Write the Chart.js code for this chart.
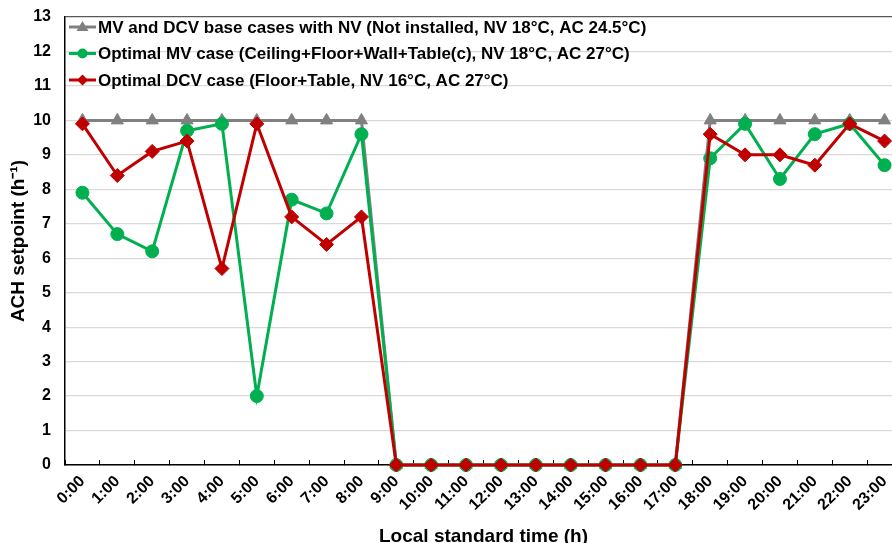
<!DOCTYPE html>
<html lang="en">
<head>
<meta charset="UTF-8">
<title>ACH setpoint</title>
<script src="https://cdn.jsdelivr.net/npm/chart.js"></script>
<style>
  html, body { margin: 0; padding: 0; overflow: hidden; background: #fff; }
  #chart { display: block; }
</style>
</head>
<body>
<canvas id="chart" width="910" height="548"></canvas>
<script>
const hours = ['0:00', '1:00', '2:00', '3:00', '4:00', '5:00', '6:00', '7:00', '8:00', '9:00', '10:00', '11:00',
               '12:00', '13:00', '14:00', '15:00', '16:00', '17:00', '18:00', '19:00', '20:00', '21:00', '22:00', '23:00'];

const baseCase   = [10, 10, 10, 10, 10, 10, 10, 10, 10, 0, 0, 0, 0, 0, 0, 0, 0, 0, 10, 10, 10, 10, 10, 10];
const optimalMV  = [7.9, 6.7, 6.2, 9.7, 9.9, 2.0, 7.7, 7.3, 9.6, 0, 0, 0, 0, 0, 0, 0, 0, 0, 8.9, 9.9, 8.3, 9.6, 9.9, 8.7];
const optimalDCV = [9.9, 8.4, 9.1, 9.4, 5.7, 9.9, 7.2, 6.4, 7.2, 0, 0, 0, 0, 0, 0, 0, 0, 0, 9.6, 9.0, 9.0, 8.7, 9.9, 9.4];

const seriesNames = [
    'MV and DCV base cases with NV (Not installed, NV 18°C, AC 24.5°C)',
    'Optimal MV case (Ceiling+Floor+Wall+Table(c), NV 18°C, AC 27°C)',
    'Optimal DCV case (Floor+Table, NV 16°C, AC 27°C)'
];

const yMin = 0, yMax = 13, yStep = 1;

const FONT = '"Liberation Sans", Arial, sans-serif';

// legend drawn inside the plot, top-left, like the Excel original
const insideLegend = {
    id: 'insideLegend',
    afterDraw(chart) {
        const { ctx, chartArea } = chart;
        ctx.save();
        ctx.font = 'bold 17px ' + FONT;
        ctx.textBaseline = 'middle';
        chart.data.datasets.forEach((ds, i) => {
            const y = chartArea.top + 10 + i * 26.5;
            const x0 = chartArea.left + 4;
            const cx = x0 + 13.5;
            ctx.strokeStyle = ds.borderColor;
            ctx.fillStyle = ds.borderColor;
            ctx.lineWidth = 3;
            ctx.beginPath();
            ctx.moveTo(x0, y);
            ctx.lineTo(x0 + 27, y);
            ctx.stroke();
            ctx.beginPath();
            if (ds.pointStyle === 'triangle') {
                ctx.moveTo(cx, y - 6);
                ctx.lineTo(cx + 6, y + 4);
                ctx.lineTo(cx - 6, y + 4);
            } else if (ds.pointStyle === 'circle') {
                ctx.arc(cx, y, 5, 0, Math.PI * 2);
            } else {
                ctx.moveTo(cx, y - 5.5);
                ctx.lineTo(cx + 5.5, y);
                ctx.lineTo(cx, y + 5.5);
                ctx.lineTo(cx - 5.5, y);
            }
            ctx.closePath();
            ctx.fill();
            ctx.fillStyle = '#000';
            ctx.fillText(ds.label, x0 + 29, y + 1);
        });
        ctx.restore();
    }
};

new Chart(document.getElementById('chart'), {
    type: 'line',
    data: {
        labels: hours,
        datasets: [{
            label: seriesNames[0],
            data: baseCase,
            borderColor: '#808080',
            backgroundColor: '#808080',
            pointStyle: 'triangle',
            pointRadius: 7,
            order: 3
        }, {
            label: seriesNames[1],
            data: optimalMV,
            borderColor: '#00b050',
            backgroundColor: '#00b050',
            pointStyle: 'circle',
            pointRadius: 6.5,
            order: 2
        }, {
            label: seriesNames[2],
            data: optimalDCV,
            borderColor: '#c00000',
            backgroundColor: '#c00000',
            pointStyle: 'rectRot',
            pointRadius: 7,
            order: 1
        }]
    },
    options: {
        responsive: false,
        animation: false,
        devicePixelRatio: 1,
        layout: { padding: { top: 17, left: 3, right: 8, bottom: 0 } },
        elements: {
            line: { borderWidth: 3, tension: 0 },
            point: { borderWidth: 1, hoverRadius: 7 }
        },
        datasets: { line: { clip: false } },
        plugins: {
            legend: { display: false },
            tooltip: { enabled: false }
        },
        scales: {
            x: {
                offset: true,
                grid: {
                    offset: true,
                    drawOnChartArea: false,
                    drawTicks: true,
                    tickLength: -5,
                    color: '#000',
                    lineWidth: 1
                },
                border: { color: '#000', width: 1.5 },
                ticks: {
                    autoSkip: false,
                    maxRotation: 45,
                    minRotation: 45,
                    padding: 12,
                    color: '#000',
                    font: { family: FONT, size: 16, weight: 'bold' }
                },
                title: {
                    display: true,
                    text: 'Local standard time (h)',
                    color: '#000',
                    padding: { top: 0, bottom: 0 },
                    font: { family: FONT, size: 19, weight: 'bold' }
                },
                afterFit(scale) {
                    scale.height = 83;
                    scale.paddingLeft = 0;
                    scale.paddingRight = 0;
                }
            },
            y: {
                min: yMin,
                max: yMax,
                ticks: {
                    stepSize: yStep,
                    padding: 14,
                    color: '#000',
                    font: { family: FONT, size: 16, weight: 'bold' }
                },
                grid: {
                    drawTicks: false,
                    color: ctx => ctx.tick && ctx.tick.value === yMax ? '#595959' : '#d9d9d9',
                    lineWidth: 1.2
                },
                border: { color: '#000', width: 1.5 },
                title: {
                    display: true,
                    text: 'ACH setpoint (h⁻¹)',
                    color: '#000',
                    padding: { top: 4, bottom: 4 },
                    font: { family: FONT, size: 19, weight: 'bold' }
                },
                afterFit(scale) {
                    scale.width = 62;
                    scale.paddingTop = 0;
                    scale.paddingBottom = 0;
                }
            }
        }
    },
    plugins: [insideLegend]
});
</script>
</body>
</html>
